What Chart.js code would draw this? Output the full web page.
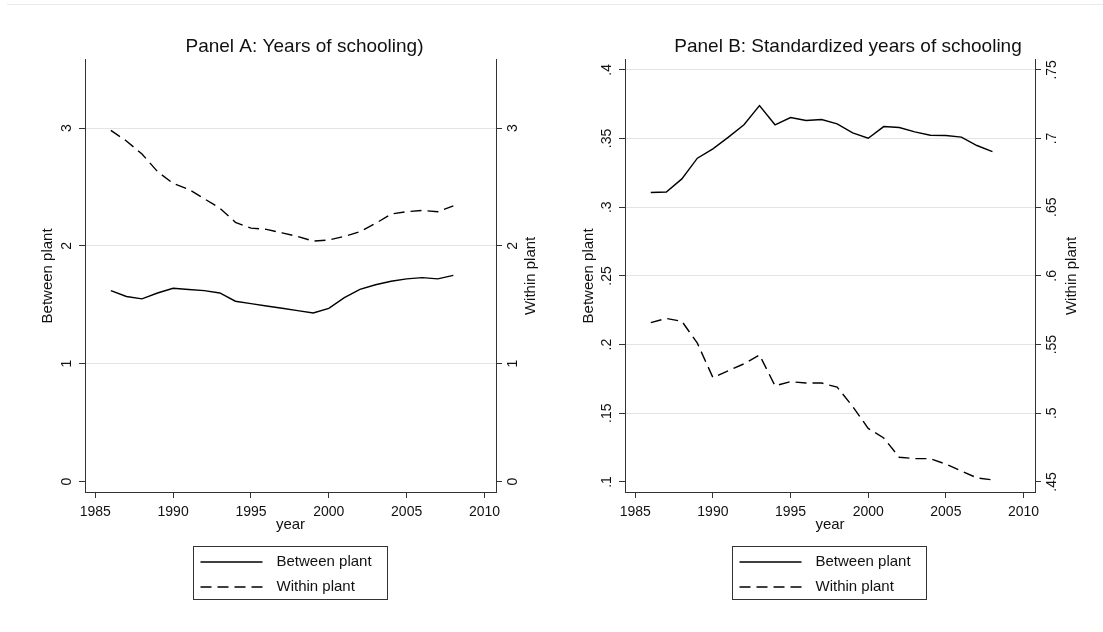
<!DOCTYPE html>
<html>
<head>
<meta charset="utf-8">
<title>Between and within plant</title>
<script src="https://cdn.jsdelivr.net/npm/chart.js@4.4.0/dist/chart.umd.min.js"></script>
<style>
body { margin: 0; width: 1103px; height: 632px; overflow: hidden; background: #fff; position: relative; }
#topRule { position: absolute; left: 7px; right: 0; top: 4px; border-top: 1px solid #e6ebef; }
#wrapA { position: absolute; left: 0; top: 0; }
#wrapB { position: absolute; left: 570px; top: 0; }
</style>
</head>
<body>
<div id="topRule"></div>
<div id="wrapA"><canvas id="panelA" width="609" height="632"></canvas></div>
<div id="wrapB"><canvas id="panelB" width="556" height="632"></canvas></div>
<script>
/*
Two Stata style panels, each with a left and a right y axis
*/

// years on the x axis (one point per year)
var years = [1986, 1987, 1988, 1989, 1990, 1991, 1992, 1993, 1994, 1995, 1996, 1997,
             1998, 1999, 2000, 2001, 2002, 2003, 2004, 2005, 2006, 2007, 2008];
var seriesNames = ["Between plant", "Within plant"];

var xTicks = [1985, 1990, 1995, 2000, 2005, 2010];
var xTickLabels = ["1985", "1990", "1995", "2000", "2005", "2010"];

// Panel A: years of schooling
var betweenA = [1.62, 1.57, 1.55, 1.60, 1.64, 1.63, 1.62, 1.60, 1.53, 1.51, 1.49, 1.47,
                1.45, 1.43, 1.47, 1.56, 1.63, 1.67, 1.70, 1.72, 1.73, 1.72, 1.75];
var withinA = [2.98, 2.89, 2.78, 2.63, 2.53, 2.48, 2.40, 2.32, 2.20, 2.15, 2.14, 2.11,
               2.08, 2.04, 2.05, 2.08, 2.12, 2.19, 2.27, 2.29, 2.30, 2.29, 2.34];
var yTicksA = [0, 1, 2, 3];
var yTickLabelsA = ["0", "1", "2", "3"];

// Panel B: standardized years of schooling
var betweenB = [0.3107, 0.3111, 0.3206, 0.3357, 0.3425, 0.3510, 0.3600, 0.3740, 0.3600, 0.3653, 0.3631, 0.3638,
                0.3607, 0.3541, 0.3502, 0.3587, 0.3580, 0.3548, 0.3524, 0.3522, 0.3510, 0.3449, 0.3405];
var withinB = [0.566, 0.569, 0.567, 0.551, 0.526, 0.531, 0.536, 0.5425, 0.520, 0.523, 0.522, 0.522,
               0.519, 0.505, 0.489, 0.482, 0.468, 0.467, 0.467, 0.463, 0.458, 0.453, 0.4515];
var yTicksB = [0.1, 0.15, 0.2, 0.25, 0.3, 0.35, 0.4];
var yTickLabelsB = [".1", ".15", ".2", ".25", ".3", ".35", ".4"];
var y2TicksB = [0.45, 0.5, 0.55, 0.6, 0.65, 0.7, 0.75];
var y2TickLabelsB = [".45", ".5", ".55", ".6", ".65", ".7", ".75"];

var FONT = "'Liberation Sans', Arial, sans-serif";
var TEXT = "#111";
var AXIS = "#333";
var GRID = "#e4e4e4";

Chart.defaults.font.family = FONT;
Chart.defaults.color = TEXT;

// right axis title (reads bottom to top) and the boxed legend under the x axis
var stataExtras = {
    id: "stataExtras",
    afterDraw: function(chart, args, opts) {
        var ctx = chart.ctx;
        var area = chart.chartArea;
        ctx.save();
        ctx.fillStyle = TEXT;
        ctx.font = "15px " + FONT;
        ctx.textAlign = "center";
        ctx.textBaseline = "middle";
        ctx.translate(area.right + opts.rightTitleGap, (area.top + area.bottom) / 2);
        ctx.rotate(-Math.PI / 2);
        ctx.fillText(opts.rightTitle, 0, 0);
        ctx.restore();

        // legend
        var boxW = 194, boxH = 53;
        var left = Math.round((area.left + area.right) / 2 - boxW / 2 - 1) + 0.5;
        var top = Math.round(area.bottom + 54) + 0.5;
        ctx.save();
        ctx.strokeStyle = AXIS;
        ctx.lineWidth = 1;
        ctx.strokeRect(left, top, boxW, boxH);
        chart.data.datasets.forEach(function(ds, i) {
            var rowY = top + 15.5 + i * 25;
            ctx.strokeStyle = ds.borderColor;
            ctx.lineWidth = ds.borderWidth;
            ctx.setLineDash(ds.borderDash || []);
            ctx.beginPath();
            ctx.moveTo(left + 7, rowY);
            ctx.lineTo(left + 69, rowY);
            ctx.stroke();
            ctx.setLineDash([]);
            ctx.fillStyle = TEXT;
            ctx.font = "15px " + FONT;
            ctx.textAlign = "left";
            ctx.textBaseline = "middle";
            ctx.fillText(ds.label, left + 83, rowY);
        });
        ctx.restore();
    }
};

function toPoints(values) {
    return years.map(function(yr, i) { return { x: yr, y: values[i] }; });
}

function fixedTicks(list) {
    return function(scale) {
        scale.ticks = list.map(function(v) { return { value: v }; });
    };
}

function yAxis(p, side) {
    var isLeft = side === "left";
    var ticks = isLeft ? p.yTicks : p.y2Ticks;
    var labels = isLeft ? p.yTickLabels : p.y2TickLabels;
    return {
        type: "linear",
        position: side,
        min: isLeft ? p.yMin : p.y2Min,
        max: isLeft ? p.yMax : p.y2Max,
        afterBuildTicks: fixedTicks(ticks),
        afterFit: function(scale) { scale.width = isLeft ? p.leftWidth : p.rightWidth; },
        ticks: {
            minRotation: 90,
            maxRotation: 90,
            crossAlign: "center",
            padding: p.labelPad,
            autoSkip: false,
            font: { size: 14 },
            color: TEXT,
            callback: function(v, i) { return labels[i]; }
        },
        grid: {
            drawOnChartArea: isLeft,
            color: function(c) {
                return (c.tick && c.tick.value === ticks[0]) ? "rgba(0,0,0,0)" : GRID;
            },
            lineWidth: 1,
            tickLength: 6,
            tickColor: AXIS
        },
        border: { color: AXIS, width: 1 },
        title: {
            display: isLeft,
            text: seriesNames[0],
            font: { size: 15 },
            color: TEXT,
            padding: { top: p.leftTitlePad, bottom: 0 }
        }
    };
}

function initializePanel(canvasId, p) {
    var ctx = document.getElementById(canvasId).getContext("2d");
    return new Chart(ctx, {
        type: "line",
        data: {
            datasets: [{
                label: seriesNames[0],
                data: toPoints(p.between),
                yAxisID: "y",
                borderColor: "#000",
                borderWidth: 1.4,
                pointRadius: 0,
                tension: 0,
                fill: false
            }, {
                label: seriesNames[1],
                data: toPoints(p.within),
                yAxisID: "y2",
                borderColor: "#000",
                borderWidth: 1.4,
                borderDash: [11, 6],
                pointRadius: 0,
                tension: 0,
                fill: false
            }]
        },
        options: {
            responsive: false,
            animation: false,
            layout: { padding: { top: 0, left: 0, right: 0, bottom: 98 } },
            plugins: {
                legend: { display: false },
                tooltip: { enabled: false },
                title: {
                    display: true,
                    text: p.title,
                    font: { size: 19, weight: "normal" },
                    color: TEXT,
                    padding: { top: 35, bottom: 2 }
                },
                stataExtras: { rightTitle: seriesNames[1], rightTitleGap: p.rightTitleGap }
            },
            scales: {
                x: {
                    type: "linear",
                    min: 1984.34,
                    max: 2010.74,
                    afterBuildTicks: fixedTicks(xTicks),
                    afterFit: function(scale) { scale.height = 42; },
                    ticks: {
                        maxRotation: 0,
                        autoSkip: false,
                        padding: 6,
                        font: { size: 14 },
                        color: TEXT,
                        callback: function(v, i) { return xTickLabels[i]; }
                    },
                    grid: { drawOnChartArea: false, tickLength: 6, tickColor: AXIS },
                    border: { color: AXIS, width: 1 },
                    title: {
                        display: true,
                        text: "year",
                        font: { size: 15 },
                        color: TEXT,
                        padding: { top: 0, bottom: 0 }
                    }
                },
                y: yAxis(p, "left"),
                y2: yAxis(p, "right")
            }
        },
        plugins: [stataExtras]
    });
}

function initializeCharts() {
    initializePanel("panelA", {
        title: "Panel A: Years of schooling)",
        between: betweenA, within: withinA,
        yMin: -0.089, yMax: 3.579, yTicks: yTicksA, yTickLabels: yTickLabelsA,
        y2Min: -0.089, y2Max: 3.579, y2Ticks: yTicksA, y2TickLabels: yTickLabelsA,
        leftWidth: 85, rightWidth: 113, leftTitlePad: 39, labelPad: 7.5, rightTitleGap: 35
    });
    initializePanel("panelB", {
        title: "Panel B: Standardized years of schooling",
        between: betweenB, within: withinB,
        yMin: 0.0927, yMax: 0.4073, yTicks: yTicksB, yTickLabels: yTickLabelsB,
        y2Min: 0.4427, y2Max: 0.7573, y2Ticks: y2TicksB, y2TickLabels: y2TickLabelsB,
        leftWidth: 55, rightWidth: 91, leftTitlePad: 10, labelPad: 1.8, rightTitleGap: 37
    });
}

document.addEventListener("DOMContentLoaded", initializeCharts);
</script>
</body>
</html>
